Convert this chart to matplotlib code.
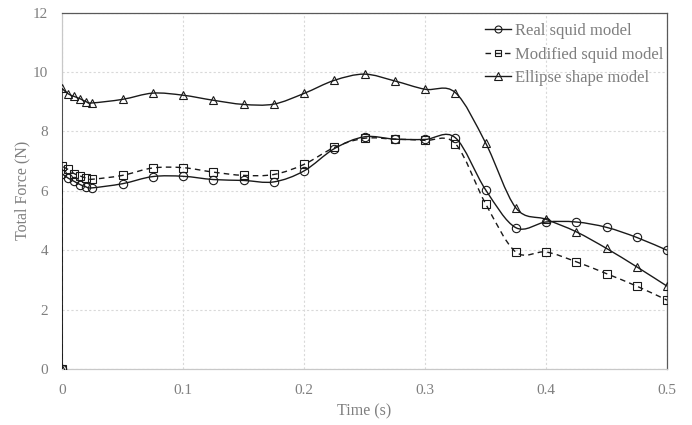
import numpy as np
import matplotlib
matplotlib.use("Agg")
import matplotlib.pyplot as plt
from matplotlib.path import Path
from matplotlib.patches import PathPatch
from matplotlib.lines import Line2D

time_s = [0, 0, 0.005, 0.01, 0.015, 0.02, 0.025, 0.05, 0.075, 0.1, 0.125, 0.15,
          0.175, 0.2, 0.225, 0.25, 0.275, 0.3, 0.325, 0.35, 0.375, 0.4, 0.425,
          0.45, 0.475, 0.5]
real_squid = [0, 6.58, 6.43, 6.32, 6.21, 6.13, 6.10, 6.24, 6.48, 6.49, 6.38, 6.35,
              6.30, 6.67, 7.42, 7.82, 7.74, 7.73, 7.79, 6.04, 4.76, 4.95, 4.95,
              4.77, 4.43, 4.00]
modified_squid = [0, 6.83, 6.72, 6.58, 6.50, 6.43, 6.39, 6.52, 6.77, 6.78, 6.63,
                  6.52, 6.55, 6.89, 7.46, 7.77, 7.74, 7.70, 7.59, 5.57, 3.94, 3.94,
                  3.61, 3.21, 2.79, 2.32]
ellipse = [0, 9.45, 9.27, 9.18, 9.10, 9.00, 8.96, 9.08, 9.29, 9.22, 9.05, 8.91,
           8.92, 9.28, 9.72, 9.93, 9.70, 9.42, 9.31, 7.62, 5.43, 5.04, 4.62, 4.06,
           3.44, 2.79]

series_names = ["Real squid model", "Modified squid model", "Ellipse shape model"]
x_ticks = [0, 0.1, 0.2, 0.3, 0.4, 0.5]
x_tick_labels = ["0", "0.1", "0.2", "0.3", "0.4", "0.5"]
y_ticks = [0, 2, 4, 6, 8, 10, 12]

plt.rcParams['font.family'] = ['Liberation Serif', 'DejaVu Serif']
TXT = '#7f7f7f'
LC = '#1a1a1a'


def smooth_path(x, y):
    pts = np.column_stack([x, y]).astype(float)
    verts = [pts[0], pts[1]]
    codes = [Path.MOVETO, Path.LINETO]
    p = pts[1:]
    n = len(p)
    for i in range(n - 1):
        p0 = p[i - 1] if i > 0 else p[i]
        p1 = p[i]
        p2 = p[i + 1]
        p3 = p[i + 2] if i + 2 < n else p[i + 1]
        c1 = p1 + (p2 - p0) / 6.0
        c2 = p2 - (p3 - p1) / 6.0
        verts += [c1, c2, p2]
        codes += [Path.CURVE4] * 3
    return Path(verts, codes)


fig = plt.figure(figsize=(6.92, 4.25), dpi=100)
ax = fig.add_axes([0.0896, 0.1318, 0.8743, 0.8384])

styles = [
    (real_squid, 'o', '-', 6.0),
    (modified_squid, 's', (0, (4, 3)), 5.5),
    (ellipse, '^', '-', 6.3),
]
handles = []
for (vals, mk, ls, ms), name in zip(styles, series_names):
    patch = PathPatch(smooth_path(time_s, vals), fill=False, edgecolor=LC,
                      lw=1.0, linestyle=ls, zorder=3)
    ax.add_patch(patch)
    ax.plot(time_s, vals, linestyle='none', marker=mk, ms=ms,
            markerfacecolor='none', markeredgecolor=LC, markeredgewidth=0.8,
            zorder=4)
    handles.append(Line2D([], [], color=LC, lw=1.0, linestyle=ls, marker=mk,
                          ms=ms - 1.0, markerfacecolor='none',
                          markeredgecolor=LC, markeredgewidth=0.8, label=name))

ax.set_xlim(0, 0.5)
ax.set_ylim(0, 12)
ax.set_xticks(x_ticks)
ax.set_xticklabels(x_tick_labels)
ax.set_yticks(y_ticks)
ax.tick_params(axis='both', length=0, labelsize=11, labelcolor=TXT)
ax.tick_params(axis='x', pad=10.5)
ax.tick_params(axis='y', pad=10)
ax.grid(True, color='#d9d9d9', linestyle=(0, (2, 2)), lw=0.8)
ax.set_axisbelow(True)

for side in ['left', 'bottom']:
    ax.spines[side].set_color('#c8c8c8')
    ax.spines[side].set_linewidth(0.9)
for side in ['top', 'right']:
    ax.spines[side].set_color('#595959')
    ax.spines[side].set_linewidth(0.9)

ax.set_xlabel("Time (s)", fontsize=11.5, color=TXT, labelpad=5)
ax.set_ylabel("Total Force (N)", fontsize=11.5, color=TXT, labelpad=2)

leg = ax.legend(handles=handles, loc='upper right', bbox_to_anchor=(1.01, 0.999),
                frameon=False, fontsize=12, handlelength=1.6,
                handletextpad=0.2, labelspacing=0.45, borderaxespad=0.2)
for t in leg.get_texts():
    t.set_color(TXT)

fig.savefig("out.png", dpi=100)
